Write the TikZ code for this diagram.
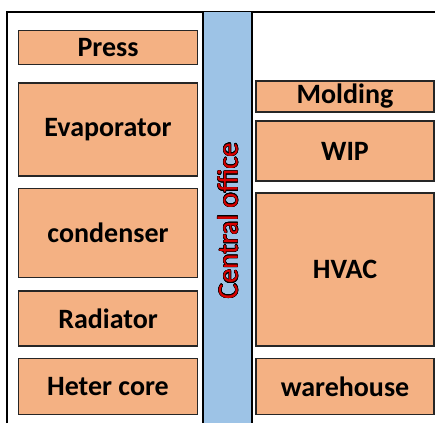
\documentclass[tikz,border=0pt]{standalone}
\usepackage{fontspec}
\setmainfont{Carlito}
\usepackage{contour}
\contourlength{0.5pt}
\definecolor{boxfill}{HTML}{F4B183}
\definecolor{bandfill}{HTML}{9DC3E6}
\definecolor{txtred}{HTML}{D80000}
\begin{document}
\begin{tikzpicture}[x=1pt,y=-1pt]
\tikzset{
  unit/.style={draw=black!85, line width=1.2pt, fill=boxfill, inner sep=0pt,
    font=\fontsize{28}{30}\selectfont\bfseries, text=black},
}
\useasboundingbox (0,0) rectangle (435,423);
% outer frame
\draw[line width=1.1pt] (7,423) -- (7,12) -- (435,12);
% central band
\fill[bandfill] (203,12) rectangle (252,423);
\draw[line width=1.1pt] (203,12) -- (203,423) (252,12) -- (252,423);
\node[rotate=90, font=\fontsize{29}{31}\selectfont, inner sep=0pt] (office) at (228,221)
  {\contour{black}{\textcolor{txtred}{Central office}}};
% left column
\node[unit, minimum width=179pt, minimum height=34pt] (press) at (108,47.5) {Press};
\node[unit, minimum width=179pt, minimum height=93pt] (evap) at (108,129.5) {Evaporator};
\node[unit, minimum width=179pt, minimum height=89pt] (cond) at (108,233) {condenser};
\node[unit, minimum width=179pt, minimum height=55pt] (rad) at (108,318.5) {Radiator};
\node[unit, minimum width=179pt, minimum height=56pt] (heter) at (108,386.5) {Heter core};
% right column
\node[unit, minimum width=178pt, minimum height=31pt] (mold) at (345,96.5) {Molding};
\node[unit, minimum width=178pt, minimum height=60pt] (wip) at (345,151) {WIP};
\node[unit, minimum width=178pt, minimum height=153pt] (hvac) at (345,269.5) {HVAC};
\node[unit, minimum width=178pt, minimum height=56pt] (ware) at (345,386.5) {warehouse};
\end{tikzpicture}
\end{document}
